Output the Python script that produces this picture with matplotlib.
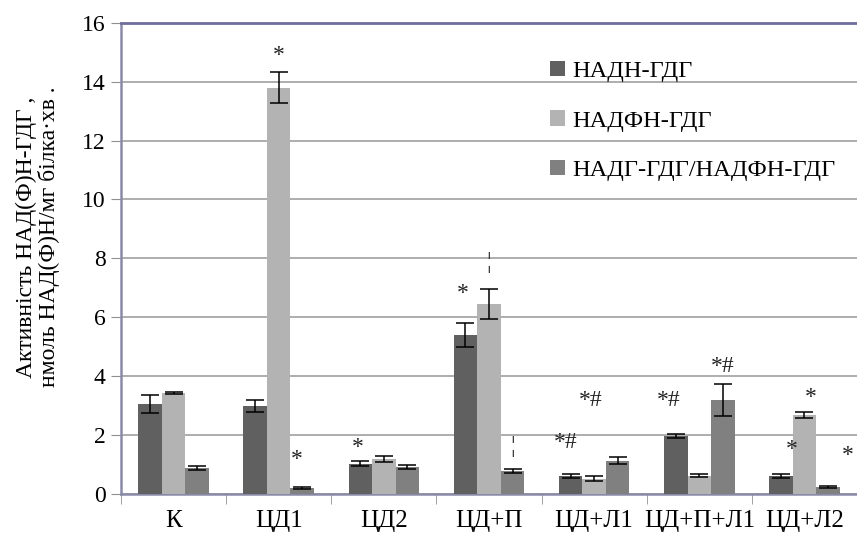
import matplotlib
matplotlib.use("Agg")
import matplotlib.pyplot as plt
import numpy as np

categories = ["К", "ЦД1", "ЦД2", "ЦД+П", "ЦД+Л1", "ЦД+П+Л1", "ЦД+Л2"]
series_names = ["НАДН-ГДГ", "НАДФН-ГДГ", "НАДГ-ГДГ/НАДФН-ГДГ"]
nadh = [3.05, 2.98, 1.02, 5.39, 0.60, 1.96, 0.60]
nadh_err = [0.30, 0.21, 0.10, 0.40, 0.06, 0.07, 0.06]
nadph = [3.42, 13.80, 1.17, 6.45, 0.50, 0.60, 2.67]
nadph_err = [0.02, 0.52, 0.09, 0.50, 0.08, 0.05, 0.09]
ratio = [0.87, 0.19, 0.90, 0.77, 1.12, 3.18, 0.22]
ratio_err = [0.06, 0.02, 0.06, 0.08, 0.13, 0.53, 0.02]

# annotations: (category index, series offset in bar units, y value, text)
annotations = [
    (1, 0.0, 14.9, "*"),
    (1, 0.75, 1.15, "*"),
    (2, -1.1, 1.58, "*"),
    (3, -1.1, 6.8, "*"),
    (3, 0.0, 7.85, "¦"),
    (3, 1.0, 1.6, "¦"),
    (4, -1.2, 1.75, "*#"),
    (4, -0.15, 3.17, "*#"),
    (5, -1.3, 3.17, "*#"),
    (5, 1.0, 4.33, "*#"),
    (6, -0.55, 1.5, "*"),
    (6, 0.25, 3.27, "*"),
    (6, 1.85, 1.3, "*"),
]

colors = ["#606060", "#b3b3b3", "#808080"]
serif = ["Liberation Serif", "DejaVu Serif"]
plt.rcParams["font.family"] = serif

fig = plt.figure(figsize=(8.57, 5.38), dpi=100)
ax = fig.add_axes([121 / 857, 1 - 493.5 / 538, 736 / 857, (493.5 - 23) / 538])

x = np.arange(len(categories))
w = 0.224
for i, (vals, errs, c, name) in enumerate(zip([nadh, nadph, ratio],
                                               [nadh_err, nadph_err, ratio_err],
                                               colors, series_names)):
    ax.bar(x + (i - 1) * w, vals, w, color=c, label=name, zorder=3,
           yerr=errs, error_kw=dict(ecolor="black", elinewidth=1.1,
                                    capsize=6.5, capthick=1.1, zorder=4))

for ci, off, yv, t in annotations:
    ax.text(ci + off * w, yv, t, ha="center", va="center", fontsize=17,
            color="#222222", zorder=5)

ax.set_xlim(-0.5, 6.5)
ax.set_ylim(0, 16)
ax.set_yticks(np.arange(0, 17, 2))
ax.set_yticklabels([str(v) for v in range(0, 17, 2)], fontsize=17)
ax.set_xticks(x)
ax.set_xticklabels(categories, fontsize=18)
ax.set_xticks(np.arange(-0.5, 7, 1), minor=True)
ax.tick_params(axis="x", which="major", length=0, pad=12)
ax.tick_params(axis="x", which="minor", length=7, color="#909090", direction="out")
ax.tick_params(axis="y", length=7, color="#909090", direction="out", pad=4)

ax.yaxis.grid(True, color="#a0a0a0", linewidth=1.2, zorder=0)
ax.set_axisbelow(True)
ax.spines["right"].set_visible(False)
ax.spines["top"].set_color("#6e6e9e")
ax.spines["top"].set_linewidth(2.0)
ax.spines["left"].set_color("#8a8aa8")
ax.spines["left"].set_linewidth(1.8)
ax.spines["bottom"].set_color("#8a8aa8")
ax.spines["bottom"].set_linewidth(1.8)

ax.set_ylabel("Активність НАД(Ф)Н-ГДГ ,\nнмоль НАД(Ф)Н/мг білка·хв .",
              fontsize=17, linespacing=1.05)
ax.yaxis.set_label_coords((60 - 121) / 736, (493.5 - 237) / 470.5)

leg = ax.legend(loc="upper left", bbox_to_anchor=(528 / 857, 1 - 39 / 538),
                bbox_transform=fig.transFigure, frameon=False,
                fontsize=17.6, handlelength=0.6, handleheight=0.58,
                handletextpad=0.33, labelspacing=1.15)

fig.savefig("out.png", dpi=100)
